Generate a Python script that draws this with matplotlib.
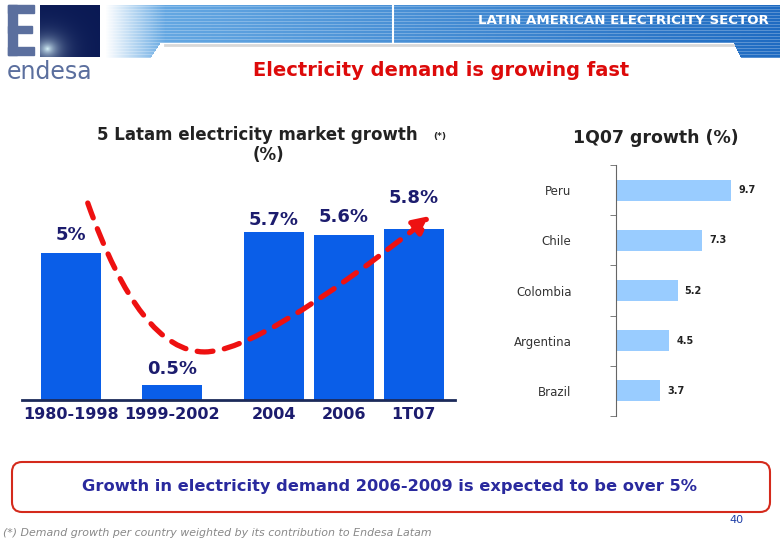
import numpy as np
import matplotlib
matplotlib.use('Agg')
from matplotlib import pyplot as plt
from matplotlib.patches import Rectangle, FancyBboxPatch, FancyArrowPatch
from matplotlib.path import Path

# data
periods = ['1980-1998', '1999-2002', '2004', '2006', '1T07']
growth = [5.0, 0.5, 5.7, 5.6, 5.8]
growth_labels = ['5%', '0.5%', '5.7%', '5.6%', '5.8%']

countries = ['Peru', 'Chile', 'Colombia', 'Argentina', 'Brazil']
q107 = [9.7, 7.3, 5.2, 4.5, 3.7]

NAVY = '#1c1c6e'
BLUE = '#0a5ee8'
RED = '#ee1111'

fig = plt.figure(figsize=(7.8, 5.4), dpi=100)

# background layer in pixel coords
bg = fig.add_axes([0, 0, 1, 1])
bg.set_xlim(0, 780)
bg.set_ylim(540, 0)
bg.axis('off')

# header banner (striped blue band)
H, W = 53, 675
xs = 105 + np.arange(W)
ys = 5 + np.arange(H)
X, Y = np.meshgrid(xs, ys)
t = (X - 105) / W
light = np.array([0.42, 0.68, 0.90])
dark = np.array([0.12, 0.42, 0.76])
img = np.zeros((H, W, 4))
for c in range(3):
    img[..., c] = light[c] * (1 - t) + dark[c] * t
stripe = (Y % 3 == 0)
img[stripe, :3] = img[stripe, :3] * 0.75 + 0.25
alpha = np.clip((X - 105) / 60.0, 0, 1)
cut = (Y >= 43) & (X >= 160) & (X <= 733)
cut |= (X >= 150) & (X < 160) & (Y >= 43 + (160 - X) * 1.5)
cut |= (X > 733) & (X <= 740) & (Y >= 43 + (X - 733) * 2.0)
alpha[cut] = 0
img[..., 3] = alpha
bg.imshow(img, extent=[105, 780, 58, 5], origin='upper', aspect='auto', zorder=1)
bg.plot([393, 393], [5, 43], color='white', lw=1.5, zorder=2)
bg.plot([165, 733], [45, 45], color='#d8d8d8', lw=2, zorder=1)
bg.text(769, 20, 'LATIN AMERICAN ELECTRICITY SECTOR', color='white',
        fontsize=9.6, fontweight='bold', ha='right', va='center', zorder=3)

# logo
logo = '#5b6f9e'
bg.add_patch(Rectangle((8, 5), 9, 50, color=logo, zorder=2))
bg.add_patch(Rectangle((8, 5), 26, 8, color=logo, zorder=2))
bg.add_patch(Rectangle((8, 26), 24, 7, color=logo, zorder=2))
bg.add_patch(Rectangle((8, 47), 26, 8, color=logo, zorder=2))
gx, gy = np.meshgrid(np.linspace(0, 1, 60), np.linspace(0, 1, 52))
d = np.hypot(gx - 0.12, gy - 0.85)
glow = np.exp(-d / 0.18)
sq = np.zeros((52, 60, 3))
sq[..., 0] = 0.04 + 0.8 * glow
sq[..., 1] = 0.10 + 0.85 * glow
sq[..., 2] = 0.33 + 0.65 * glow
bg.imshow(np.clip(sq, 0, 1), extent=[40, 100, 57, 5], origin='upper', aspect='auto', zorder=2)
bg.text(7, 72, 'endesa', color=logo, fontsize=17, ha='left', va='center', zorder=3)

bg.text(441, 70, 'Electricity demand is growing fast', color='#dd0a0a',
        fontsize=14, fontweight='bold', ha='center', va='center')

# chart titles
bg.text(257, 135, '5 Latam electricity market growth', fontsize=12, fontweight='bold',
        color='#222222', ha='center', va='center')
bg.text(440, 136, '(*)', fontsize=6.5, fontweight='bold', color='#222222', ha='center', va='center')
bg.text(268, 155, '(%)', fontsize=12, fontweight='bold', color='#222222', ha='center', va='center')
bg.text(656, 138, '1Q07 growth (%)', fontsize=12.5, fontweight='bold',
        color='#222222', ha='center', va='center')

# left bar chart
pos = [0, 1.45, 2.9, 3.9, 4.9]
ax1 = fig.add_axes([22 / 780, 140 / 540, 433 / 780, 230 / 540])
ax1.bar(pos, growth, width=0.86, color=BLUE, zorder=2)
ax1.set_xlim(-0.7, 5.49)
ax1.set_ylim(0, 7.8)
for s in ['top', 'right', 'left']:
    ax1.spines[s].set_visible(False)
ax1.spines['bottom'].set_color('#1c2a5a')
ax1.spines['bottom'].set_linewidth(2)
ax1.set_yticks([])
ax1.set_xticks(pos)
ax1.set_xticklabels(periods, fontsize=11.5, fontweight='bold', color=NAVY)
ax1.tick_params(axis='x', length=0, pad=5)
ax1.patch.set_alpha(0)
label_dy = [0.6, 0.55, 0.4, 0.6, 1.05]
for x, v, lab, dy in zip(pos, growth, growth_labels, label_dy):
    ax1.text(x, v + dy, lab, fontsize=13, fontweight='bold', color=NAVY,
             ha='center', va='center')

# red dashed trend arrow
verts = [(0.24, 6.68), (0.99, 1.63), (1.91, 1.63), (2.70, 1.63), (5.15, 6.25)]
codes = [Path.MOVETO, Path.CURVE3, Path.CURVE3, Path.CURVE3, Path.CURVE3]
arrow = FancyArrowPatch(path=Path(verts, codes), arrowstyle='-|>', mutation_scale=26,
                        color=RED, lw=3.8, linestyle=(0, (3, 2.2)), zorder=4,
                        transform=ax1.transData, clip_on=False)
ax1.add_patch(arrow)

# right horizontal bar chart
ax2 = fig.add_axes([616 / 780, 124 / 540, 154 / 780, 251 / 540])
ypos = np.arange(len(countries))[::-1]
ax2.barh(ypos, q107, height=0.42, color='#99ccff', zorder=2)
ax2.set_xlim(0, 13)
ax2.set_ylim(-0.5, 4.5)
for s in ['top', 'right', 'bottom']:
    ax2.spines[s].set_visible(False)
ax2.spines['left'].set_color('#666666')
ax2.set_xticks([])
ax2.set_yticks(ypos)
ax2.set_yticklabels(countries, fontsize=8.5, color='#333333')
ax2.tick_params(axis='y', which='major', length=0, pad=32)
ax2.set_yticks(np.arange(-0.5, 5, 1), minor=True)
ax2.tick_params(axis='y', which='minor', length=4, color='#666666', direction='out')
ax2.patch.set_alpha(0)
for y, v in zip(ypos, q107):
    ax2.text(v + 0.6, y, f'{v}', fontsize=7, fontweight='bold', color='#222222',
             ha='left', va='center')

# bottom message box
bg.add_patch(FancyBboxPatch((12, 462), 758, 50, boxstyle='round,pad=0,rounding_size=10',
                            ec='#d42a1c', fc='white', lw=1.5, zorder=1))
bg.text(390, 487, 'Growth in electricity demand 2006-2009 is expected to be over 5%',
        fontsize=11.7, fontweight='bold', color='#2a2a9e', ha='center', va='center', zorder=2)
bg.text(737, 520, '40', fontsize=8, color='#1f3fa8', ha='center', va='center')
bg.text(3, 533, '(*) Demand growth per country weighted by its contribution to Endesa Latam',
        fontsize=7.9, fontstyle='italic', color='#888888', ha='left', va='center')

fig.savefig('out.png', dpi=100)
